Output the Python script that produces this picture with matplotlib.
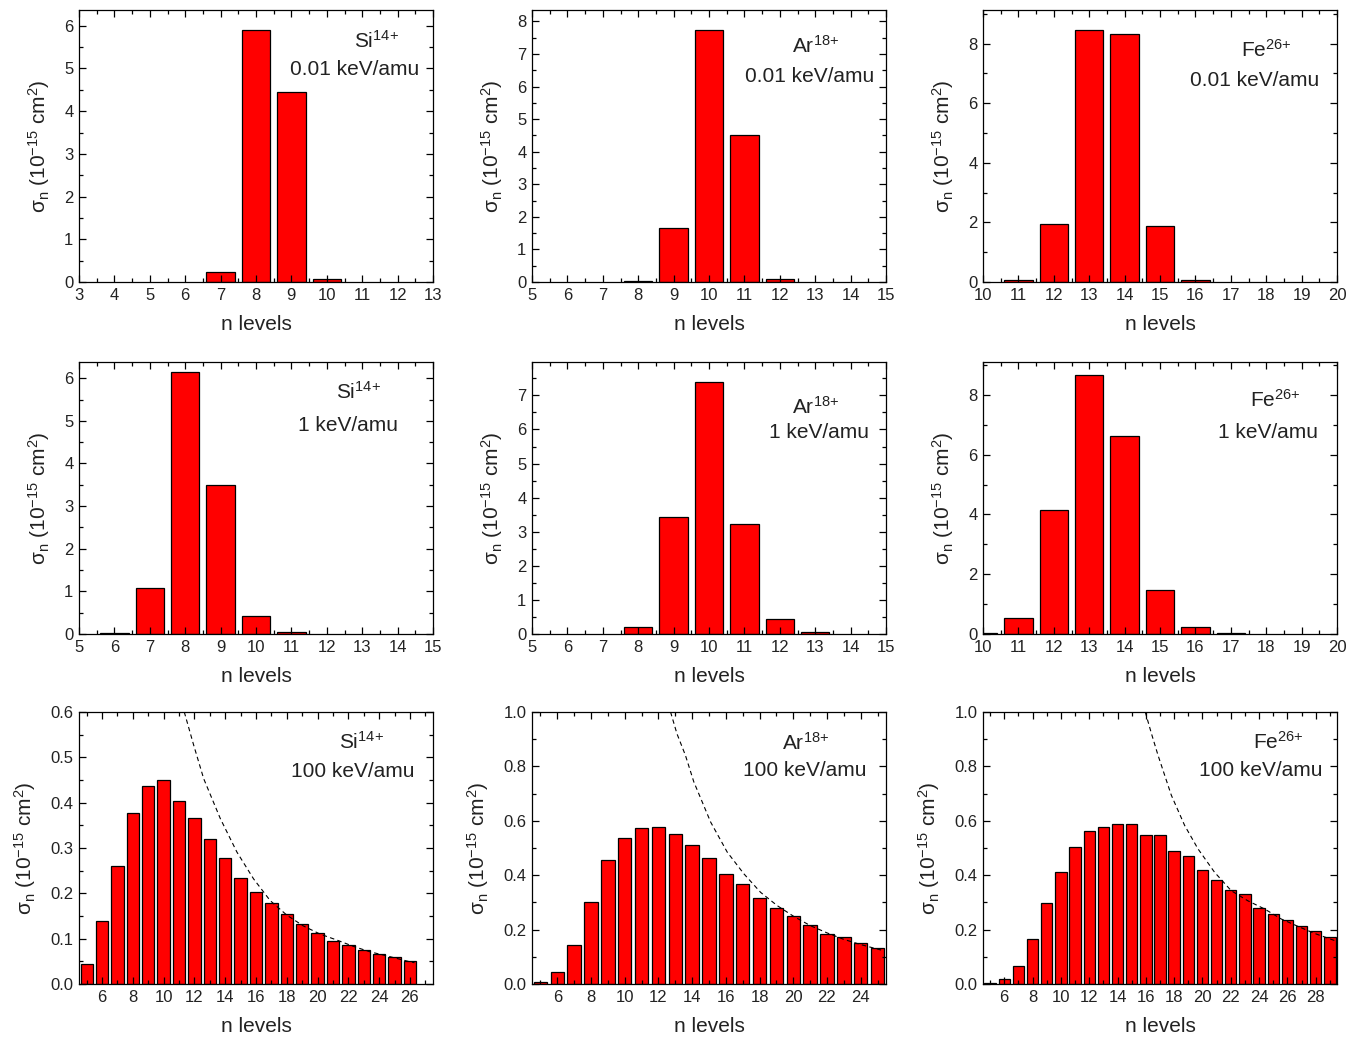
import numpy as np
import matplotlib
matplotlib.use("Agg")
import matplotlib.pyplot as plt
from matplotlib.ticker import MultipleLocator, FormatStrFormatter

plt.rcParams['font.family'] = ['Liberation Sans', 'DejaVu Sans']
plt.rcParams['mathtext.fontset'] = 'custom'
plt.rcParams['mathtext.rm'] = 'Liberation Sans'
plt.rcParams['mathtext.it'] = 'Liberation Sans:italic'

# --- data (sigma_n in 1e-15 cm^2) ---
# 0.01 keV/amu
si_001_n = [7, 8, 9, 10]
si_001_s = [0.23, 5.90, 4.46, 0.08]
ar_001_n = [8, 9, 10, 11, 12]
ar_001_s = [0.02, 1.65, 7.74, 4.51, 0.08]
fe_001_n = [11, 12, 13, 14, 15, 16]
fe_001_s = [0.08, 1.95, 8.47, 8.31, 1.89, 0.07]

# 1 keV/amu
si_1_n = [6, 7, 8, 9, 10, 11]
si_1_s = [0.02, 1.07, 6.15, 3.49, 0.42, 0.05]
ar_1_n = [8, 9, 10, 11, 12, 13]
ar_1_s = [0.21, 3.43, 7.39, 3.22, 0.43, 0.05]
fe_1_n = [10, 11, 12, 13, 14, 15, 16, 17]
fe_1_s = [0.02, 0.52, 4.15, 8.67, 6.62, 1.46, 0.22, 0.03]

# 100 keV/amu
si_100_n = list(range(5, 27))
si_100_s = [0.044, 0.14, 0.26, 0.378, 0.437, 0.449, 0.404, 0.366, 0.320, 0.277,
            0.234, 0.203, 0.179, 0.155, 0.133, 0.113, 0.095, 0.087, 0.075, 0.066,
            0.059, 0.051]
ar_100_n = list(range(5, 26))
ar_100_s = [0.006, 0.043, 0.142, 0.303, 0.456, 0.537, 0.574, 0.577, 0.552, 0.510,
            0.464, 0.404, 0.366, 0.318, 0.280, 0.249, 0.217, 0.185, 0.173, 0.152,
            0.131]
fe_100_n = list(range(5, 30))
fe_100_s = [0.004, 0.018, 0.065, 0.167, 0.298, 0.412, 0.504, 0.564, 0.578, 0.589,
            0.590, 0.546, 0.546, 0.490, 0.472, 0.420, 0.384, 0.346, 0.330, 0.281,
            0.258, 0.234, 0.213, 0.194, 0.173]

# dashed curves
si_curve_n = [11.34, 11.95, 12.6, 13.68, 14.76, 15.84, 16.92, 18.0, 19.08, 20.17,
              21.25, 22.33, 23.41, 24.5, 26.0, 26.3]
si_curve_s = [0.60, 0.527, 0.453, 0.365, 0.291, 0.232, 0.184, 0.152, 0.128, 0.110,
              0.097, 0.083, 0.071, 0.062, 0.049, 0.047]
ar_curve_n = [12.72, 13.1, 13.6, 14.1, 15.1, 16.08, 17.07, 18.06, 19.05, 20.04,
              21.03, 22.0, 23.0, 24.0, 25.38]
ar_curve_s = [1.0, 0.92, 0.841, 0.743, 0.595, 0.485, 0.405, 0.337, 0.288, 0.248,
              0.214, 0.188, 0.164, 0.145, 0.122]
fe_curve_n = [15.96, 16.4, 16.86, 17.8, 18.74, 19.68, 20.85, 22.03, 23.2, 24.38,
              25.56, 26.74, 27.91, 29.32]
fe_curve_s = [1.0, 0.92, 0.841, 0.694, 0.583, 0.497, 0.411, 0.343, 0.306, 0.276,
              0.239, 0.212, 0.186, 0.160]

ions = ['Si$^{\\mathregular{14{+}}}$', 'Ar$^{\\mathregular{18{+}}}$', 'Fe$^{\\mathregular{26{+}}}$']
energies = ['0.01 keV/amu', '1 keV/amu', '100 keV/amu']

bars = [[(si_001_n, si_001_s), (ar_001_n, ar_001_s), (fe_001_n, fe_001_s)],
        [(si_1_n, si_1_s), (ar_1_n, ar_1_s), (fe_1_n, fe_1_s)],
        [(si_100_n, si_100_s), (ar_100_n, ar_100_s), (fe_100_n, fe_100_s)]]
curves = [(si_curve_n, si_curve_s), (ar_curve_n, ar_curve_s), (fe_curve_n, fe_curve_s)]

# axis settings: xlim, x major, x minor / ylim, y major, y minor, y format
xset = [[((3, 13), 1, 0.5), ((5, 15), 1, 0.5), ((10, 20), 1, 0.5)],
        [((5, 15), 1, 0.5), ((5, 15), 1, 0.5), ((10, 20), 1, 0.5)],
        [((4.5, 27.5), 2, 1), ((4.5, 25.5), 2, 1), ((4.5, 29.5), 2, 1)]]
yset = [[((0, 6.37), 1, 0.5, '%d'), ((0, 8.35), 1, 0.5, '%d'), ((0, 9.13), 2, 1, '%d')],
        [((0, 6.38), 1, 0.5, '%d'), ((0, 7.98), 1, 0.5, '%d'), ((0, 9.1), 2, 1, '%d')],
        [((0, 0.6), 0.1, 0.05, '%.1f'), ((0, 1.0), 0.2, 0.1, '%.1f'), ((0, 1.0), 0.2, 0.1, '%.1f')]]

# text positions (axes fraction): ion centre, energy right edge
ion_pos = [[(0.84, 0.886), (0.80, 0.868), (0.80, 0.852)],
           [(0.79, 0.89), (0.80, 0.834), (0.825, 0.86)],
           [(0.797, 0.89), (0.774, 0.885), (0.833, 0.89)]]
en_pos = [[(0.96, 0.783), (0.966, 0.757), (0.95, 0.742)],
          [(0.90, 0.768), (0.952, 0.742), (0.946, 0.742)],
          [(0.949, 0.78), (0.946, 0.786), (0.958, 0.786)]]

W, H = 1357, 1038
fig = plt.figure(figsize=(W / 100, H / 100), dpi=100)

lefts = [79, 532, 983]
tops = [10, 362, 712]
aw, ah = 354, 272

for r in range(3):
    for c in range(3):
        ax = fig.add_axes([lefts[c] / W, 1 - (tops[r] + ah) / H, aw / W, ah / H])
        n, s = bars[r][c]
        ax.bar(n, s, width=0.8, color='#ff0000', edgecolor='black', linewidth=0.9)
        if r == 2:
            cn, cs = curves[c]
            ax.plot(cn, cs, color='black', linestyle=(0, (4, 3)), linewidth=0.8)
        (xl, xmaj, xmin) = xset[r][c]
        (yl, ymaj, ymin, yfmt) = yset[r][c]
        ax.set_xlim(*xl)
        ax.set_ylim(*yl)
        ax.xaxis.set_major_locator(MultipleLocator(xmaj))
        ax.xaxis.set_minor_locator(MultipleLocator(xmin))
        ax.yaxis.set_major_locator(MultipleLocator(ymaj))
        ax.yaxis.set_minor_locator(MultipleLocator(ymin))
        ax.yaxis.set_major_formatter(FormatStrFormatter(yfmt))
        ax.tick_params(which='both', direction='in', top=True, right=True,
                       labelsize=12, width=0.9, pad=4, labelcolor='#222222')
        ax.tick_params(which='major', length=5)
        ax.tick_params(which='minor', length=3)
        for sp in ax.spines.values():
            sp.set_linewidth(0.9)
        ax.set_xlabel('n levels', fontsize=15, labelpad=9, color='#222222')
        ax.set_ylabel('σ$_\\mathregular{n}$ (10$^{\\mathregular{{-}15}}$ cm$^\\mathregular{2}$)',
                      fontsize=15, labelpad=9, color='#222222')
        ix, iy = ion_pos[r][c]
        ax.text(ix, iy, ions[c], transform=ax.transAxes, fontsize=15,
                ha='center', va='center', color='#222222')
        ex, ey = en_pos[r][c]
        ax.text(ex, ey, energies[r], transform=ax.transAxes, fontsize=15,
                ha='right', va='center', color='#222222')

fig.savefig('out.png', dpi=100)
